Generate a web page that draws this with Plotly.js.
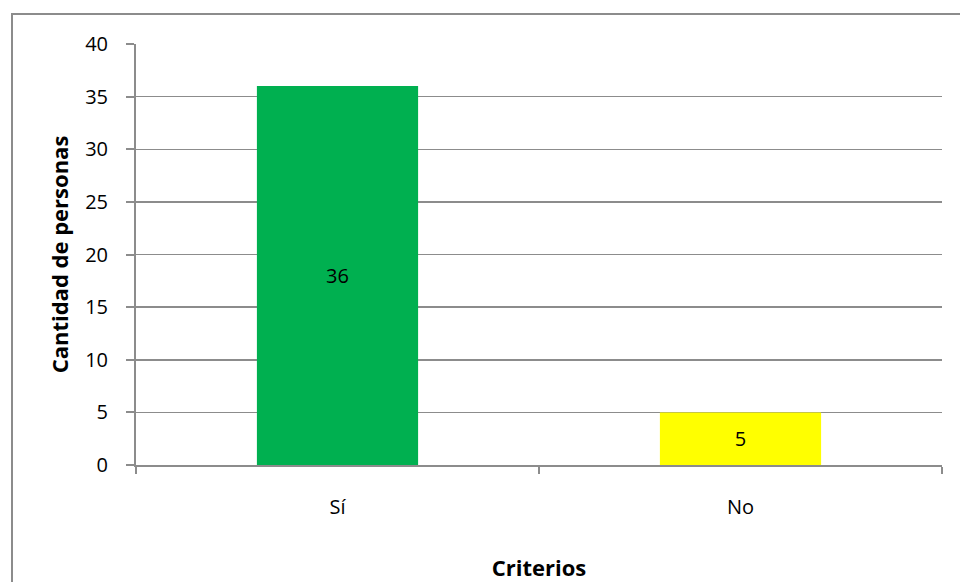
<!DOCTYPE html>
<html>
<head>
<meta charset="utf-8">
<script src="https://cdn.plot.ly/plotly-3.0.1.min.js"></script>
<style>
html,body{margin:0;padding:0;background:#fff;overflow:hidden;}
#wrap{position:relative;width:960px;height:582px;}
#chart{position:absolute;left:0;top:0;width:960px;height:582px;}
#frame{position:absolute;left:11px;top:13px;width:960px;height:600px;border:2px solid #8c8c8c;box-sizing:border-box;pointer-events:none;}
</style>
</head>
<body>
<div id="wrap">
<div id="chart"></div>
<div id="frame"></div>
</div>
<script>
var categories = ['Sí', 'No'];
var values = [36, 5];
var barColors = ['#00B050', '#FFFF00'];
var yTicks = [0, 5, 10, 15, 20, 25, 30, 35, 40];

var font = '"Open Sans", "Liberation Sans", sans-serif';

var trace = {
  type: 'bar',
  x: categories,
  y: values,
  text: values.map(String),
  textposition: 'inside',
  insidetextanchor: 'middle',
  textangle: 0,
  textfont: {family: font, size: 20, color: '#000'},
  marker: {color: barColors, line: {width: 0}},
  width: 0.4,
  hoverinfo: 'none'
};

var layout = {
  width: 960,
  height: 582,
  margin: {l: 136, r: 18, t: 44, b: 117},
  paper_bgcolor: 'rgba(0,0,0,0)',
  plot_bgcolor: '#fff',
  showlegend: false,
  font: {family: font, color: '#000'},
  xaxis: {
    type: 'category',
    tickson: 'boundaries',
    ticks: 'outside',
    ticklen: 7,
    tickwidth: 2,
    tickcolor: '#8c8c8c',
    showline: true,
    linecolor: '#8c8c8c',
    linewidth: 2,
    showgrid: false,
    zeroline: false,
    tickfont: {family: font, size: 20, color: '#000'},
    ticklabelstandoff: 23,
    title: {text: '<b>Criterios</b>', font: {family: font, size: 22, color: '#000'}, standoff: 44}
  },
  yaxis: {
    range: [0, 40],
    tickvals: yTicks,
    ticktext: yTicks.map(String),
    ticks: 'outside',
    ticklen: 8,
    tickwidth: 2,
    tickcolor: '#8c8c8c',
    showline: true,
    linecolor: '#8c8c8c',
    linewidth: 2,
    showgrid: true,
    gridcolor: '#8c8c8c',
    gridwidth: 1.5,
    zeroline: false,
    tickfont: {family: font, size: 20, color: '#000'},
    ticklabelstandoff: 14,
    title: {text: '<b>Cantidad de personas</b>', font: {family: font, size: 22, color: '#000'}, standoff: 10}
  }
};

Plotly.newPlot('chart', [trace], layout, {staticPlot: true, displayModeBar: false});
</script>
</body>
</html>
